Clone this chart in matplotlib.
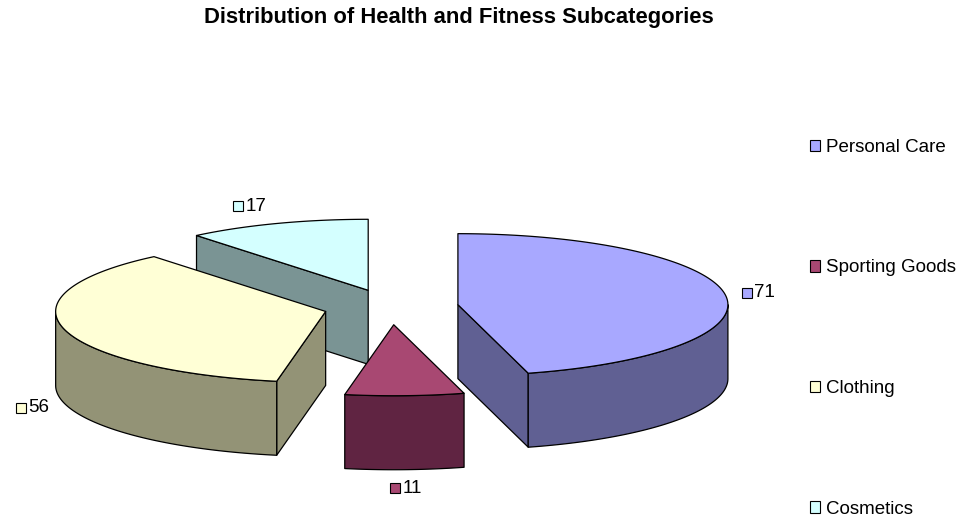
import numpy as np
import matplotlib.pyplot as plt
from matplotlib.patches import Polygon, Patch, Rectangle
from matplotlib.offsetbox import AnnotationBbox, HPacker, TextArea, DrawingArea

categories = ['Personal Care', 'Sporting Goods', 'Clothing', 'Cosmetics']
values = [71, 11, 56, 17]
top_colors = ['#a8a8ff', '#a84872', '#ffffd6', '#d4ffff']
side_colors = ['#606093', '#602442', '#939376', '#7a9494']

plt.rcParams['font.family'] = ['Liberation Sans', 'DejaVu Sans']

fig = plt.figure(figsize=(9.62, 5.19), dpi=100)
# axes in pixel units so the pie can be laid out like the original
ax = fig.add_axes([0, 0, 1, 1])
ax.set_xlim(0, 962)
ax.set_ylim(519, 0)
ax.axis('off')

# pie geometry (pixels)
cx, cy = 391, 307
rx, ry = 270, 71
depth = 74
explode = 0.25

total = sum(values)
bounds = np.concatenate([[0], np.cumsum(values)]) / total * 360


def pt(x0, y0, ang, r=1.0):
    a = np.radians(ang)
    return x0 + r * rx * np.sin(a), y0 - r * ry * np.cos(a)


slices = []
for i, v in enumerate(values):
    a1, a2 = bounds[i], bounds[i + 1]
    mid = (a1 + a2) / 2
    ox, oy = pt(cx, cy, mid, explode)
    slices.append((i, a1, a2, mid, ox, oy))

ec = dict(edgecolor='black', linewidth=0.9, joinstyle='round')
# draw back to front
for i, a1, a2, mid, ox, oy in sorted(slices, key=lambda s: s[5]):
    # cut faces that look toward the viewer
    for ang, normal in [(a1, a1 - 90), (a2, a2 + 90)]:
        if np.cos(np.radians(normal)) < -1e-6:
            px, py = pt(ox, oy, ang)
            poly = [(ox, oy), (px, py), (px, py + depth), (ox, oy + depth)]
            ax.add_patch(Polygon(poly, facecolor=side_colors[i], **ec))
    # outer wall, front half only
    lo, hi = max(a1, 90), min(a2, 270)
    if hi > lo:
        t = np.linspace(lo, hi, 100)
        xs, ys = pt(ox, oy, t)
        poly = np.column_stack([np.r_[xs, xs[::-1]], np.r_[ys, ys[::-1] + depth]])
        ax.add_patch(Polygon(poly, facecolor=side_colors[i], **ec))
    # top face
    t = np.linspace(a1, a2, 200)
    xs, ys = pt(ox, oy, t)
    poly = np.column_stack([np.r_[ox, xs], np.r_[oy, ys]])
    ax.add_patch(Polygon(poly, facecolor=top_colors[i], **ec))

# value labels
for i, a1, a2, mid, ox, oy in slices:
    s, c = np.sin(np.radians(mid)), np.cos(np.radians(mid))
    lx, ly = pt(ox, oy, mid, 1.12)
    if c > 0:
        lx += 55 * s * c ** 2
    ly += (depth if c < 0 else 0) - 10 * c
    da = DrawingArea(7, 7)
    da.add_artist(Rectangle((0, 0), 7, 7, facecolor=top_colors[i],
                            edgecolor='black', linewidth=0.8))
    box = HPacker(children=[da, TextArea(str(values[i]), textprops=dict(fontsize=13.5))],
                  align='center', pad=0, sep=2)
    ax.add_artist(AnnotationBbox(box, (lx, ly), frameon=False, box_alignment=(0.5, 0.5)))

handles = [Patch(facecolor=top_colors[i], edgecolor='black', linewidth=0.8)
           for i in range(len(categories))]
fig.legend(handles, categories, loc='upper left', bbox_to_anchor=(810 / 962, 1 - 139 / 519),
           frameon=False, fontsize=13.5, handlelength=0.55, handleheight=0.55,
           handletextpad=0.3, labelspacing=5.52, borderpad=0, borderaxespad=0)

fig.text(459 / 962, 1 - 18 / 519, 'Distribution of Health and Fitness Subcategories',
         ha='center', va='center', fontsize=15.8, fontweight='bold')

fig.savefig('out.png', dpi=100)
